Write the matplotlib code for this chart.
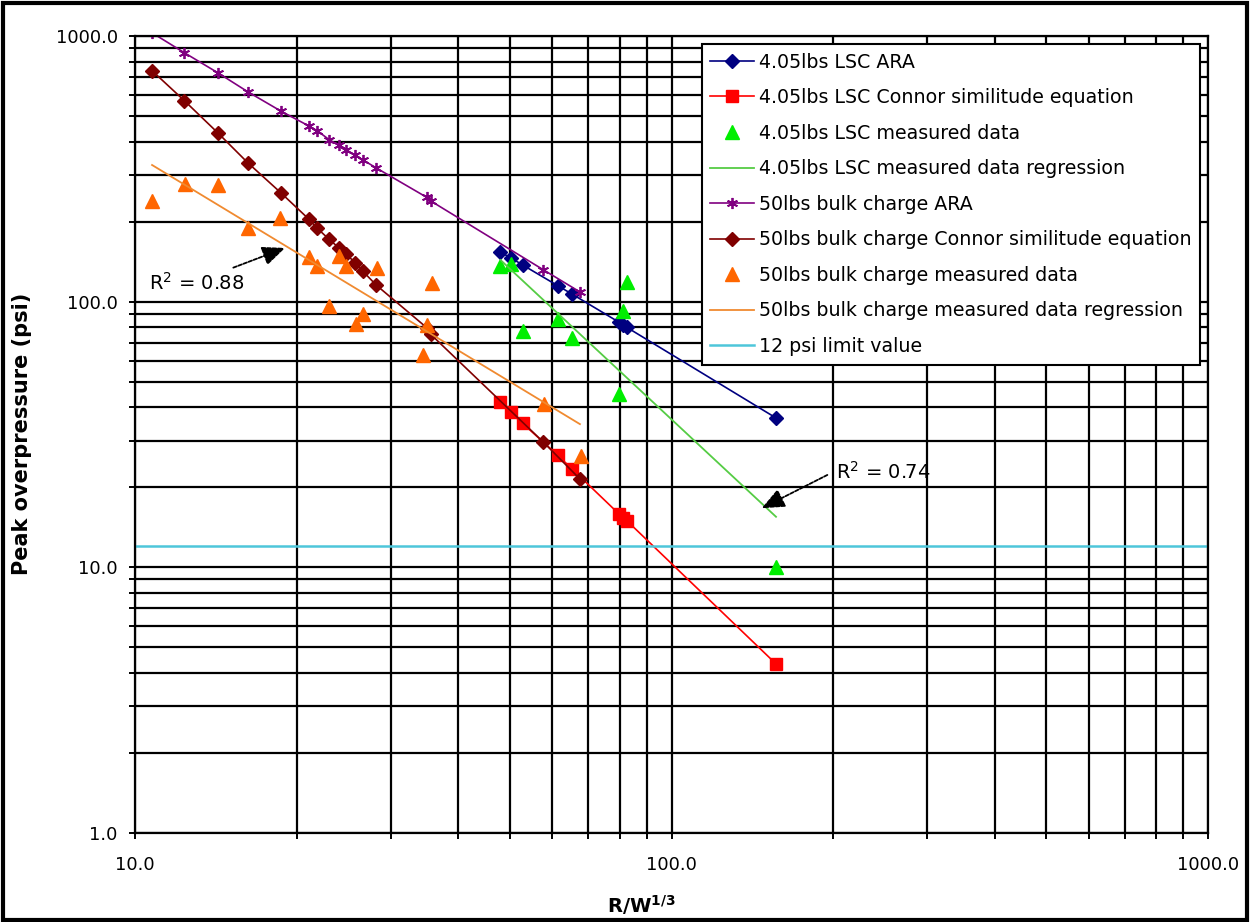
import matplotlib
matplotlib.use('Agg')
import matplotlib.pyplot as plt
from matplotlib.patches import Rectangle
from matplotlib.ticker import FixedLocator, NullFormatter

plt.rcParams['font.family'] = ['DejaVu Sans']

# 4.05lbs LSC series
lsc_x = [48.0, 50.15, 52.8, 61.4, 65.2, 79.9, 81.3, 82.5, 156.6]
lsc_ara = [153.4, 146.4, 137.4, 114.8, 106.9, 83.6, 81.7, 80.1, 36.5]
lsc_connor = [41.8, 38.3, 34.8, 26.4, 23.5, 15.85, 15.4, 15.0, 4.33]
lsc_meas_x = [48.0, 50.15, 52.8, 61.4, 65.2, 82.5, 81.3, 79.9, 156.6]
lsc_meas = [135.9, 138.3, 77.6, 85.8, 72.8, 118.3, 92.3, 44.9, 10.06]
lsc_reg_x = [48.0, 156.6]
lsc_reg = [143.5, 15.5]

# 50lbs bulk charge series
bulk_x = [10.76, 12.36, 14.26, 16.22, 18.69, 21.10, 21.86, 22.99, 23.97,
          24.74, 25.74, 26.57, 28.14, 34.98, 35.57, 57.7, 67.5]
bulk_ara = [1028, 865, 727.6, 617, 522, 458.3, 440, 407.7, 387.9,
            373, 355.9, 342, 319, 247, 239.5, 131.8, 108.8]
bulk_connor = [740, 570.8, 432.5, 333.6, 257.2, 204.2, 189.0, 171.8, 159.7,
               150.8, 140.2, 130.4, 115.6, 79.8, 75.4, 29.6, 21.5]
bulk_meas_x = [10.78, 12.39, 14.28, 16.25, 18.67, 21.10, 21.88, 23.99, 24.74,
               28.2, 35.7, 23.02, 26.62, 25.84, 34.98, 34.4, 57.8, 67.7]
bulk_meas = [239.3, 277.3, 274.9, 190.0, 206.5, 147.9, 136.3, 148.6, 135.7,
             133.4, 117.6, 96.3, 89.7, 82.1, 81.7, 63.0, 41.1, 26.3]
bulk_reg_x = [10.76, 67.5]
bulk_reg = [326.9, 34.6]

limit_psi = 12

# R^2 notes: (label, text position, arrow tail, arrow head)
notes = [
    ('R$^2$ = 0.88', (13.05, 117.6), (15.25, 134.3), (19.04, 159.3)),
    ('R$^2$ = 0.74', (247.9, 22.86), (195.2, 22.27), (147.3, 16.69)),
]

W, H = 1252, 922
fig = plt.figure(figsize=(W / 100, H / 100), dpi=100)
ax = fig.add_axes([135 / W, (H - 833) / H, 1073 / W, 797 / H])

ax.set_xscale('log')
ax.set_yscale('log')
ax.set_xlim(10, 1000)
ax.set_ylim(1, 1000)

ax.plot(lsc_x, lsc_ara, color='#000080', lw=1.2, marker='D', ms=7.5,
        label='4.05lbs LSC ARA')
ax.plot(lsc_x, lsc_connor, color='#FF0000', lw=1.2, marker='s', ms=8,
        label='4.05lbs LSC Connor similitude equation')
ax.plot(lsc_meas_x, lsc_meas, ls='none', color='#00EE00', marker='^', ms=10,
        label='4.05lbs LSC measured data')
ax.plot(lsc_reg_x, lsc_reg, color='#55CC44', lw=1.3,
        label='4.05lbs LSC measured data regression')
ax.plot(bulk_x, bulk_ara, color='#800080', lw=1.2, marker=(6, 2, 0), ms=8,
        mew=1.3, label='50lbs bulk charge ARA')
ax.plot(bulk_x, bulk_connor, color='#800000', lw=1.2, marker='D', ms=7.5,
        label='50lbs bulk charge Connor similitude equation')
ax.plot(bulk_meas_x, bulk_meas, ls='none', color='#FF6600', marker='^', ms=10,
        label='50lbs bulk charge measured data')
ax.plot(bulk_reg_x, bulk_reg, color='#F08A30', lw=1.3,
        label='50lbs bulk charge measured data regression')
ax.axhline(limit_psi, color='#4EC6DA', lw=1.8, label='12 psi limit value')

# grid
ax.grid(True, which='both', color='black', lw=1.6, zorder=0)
ax.set_axisbelow(True)
for s in ax.spines.values():
    s.set_linewidth(1.6)

ax.xaxis.set_major_locator(FixedLocator([10, 100, 1000]))
ax.yaxis.set_major_locator(FixedLocator([1, 10, 100, 1000]))
ax.set_xticklabels(['10.0', '100.0', '1000.0'])
ax.set_yticklabels(['1.0', '10.0', '100.0', '1000.0'])
ax.xaxis.set_minor_formatter(NullFormatter())
ax.yaxis.set_minor_formatter(NullFormatter())
ax.tick_params(which='both', direction='inout', length=9, width=1.4, labelsize=13)
ax.tick_params(axis='x', pad=12)
ax.tick_params(axis='y', pad=8)

fig.text(22 / W, 1 - 434 / H, 'Peak overpressure (psi)', rotation=90,
         ha='center', va='center', fontsize=15, fontweight='bold')
fig.text(641 / W, 1 - 905 / H, r'$\mathbf{R/W^{1/3}}$', ha='center',
         va='center', fontsize=14)

for label, pos, tail, head in notes:
    ax.text(pos[0], pos[1], label, fontsize=14, ha='center', va='center')
    ax.annotate('', xy=head, xytext=tail,
                arrowprops=dict(arrowstyle='-|>,head_length=0.7,head_width=0.3',
                                color='black', lw=1.3, ls=(0, (2, 1)),
                                mutation_scale=20, shrinkA=0, shrinkB=0))

leg = ax.legend(loc='upper right', bbox_to_anchor=(0.9925, 0.99), fontsize=13.7,
                frameon=True, fancybox=False, framealpha=1, edgecolor='black',
                handlelength=2.3, handletextpad=0.25, labelspacing=0.87,
                borderpad=0.45, borderaxespad=0)
leg.get_frame().set_linewidth(1.5)

fig.patches.append(Rectangle((0.002, 0.002), 0.994, 0.995, transform=fig.transFigure,
                             fill=False, edgecolor='black', lw=3))

fig.savefig('out.png', dpi=100)
